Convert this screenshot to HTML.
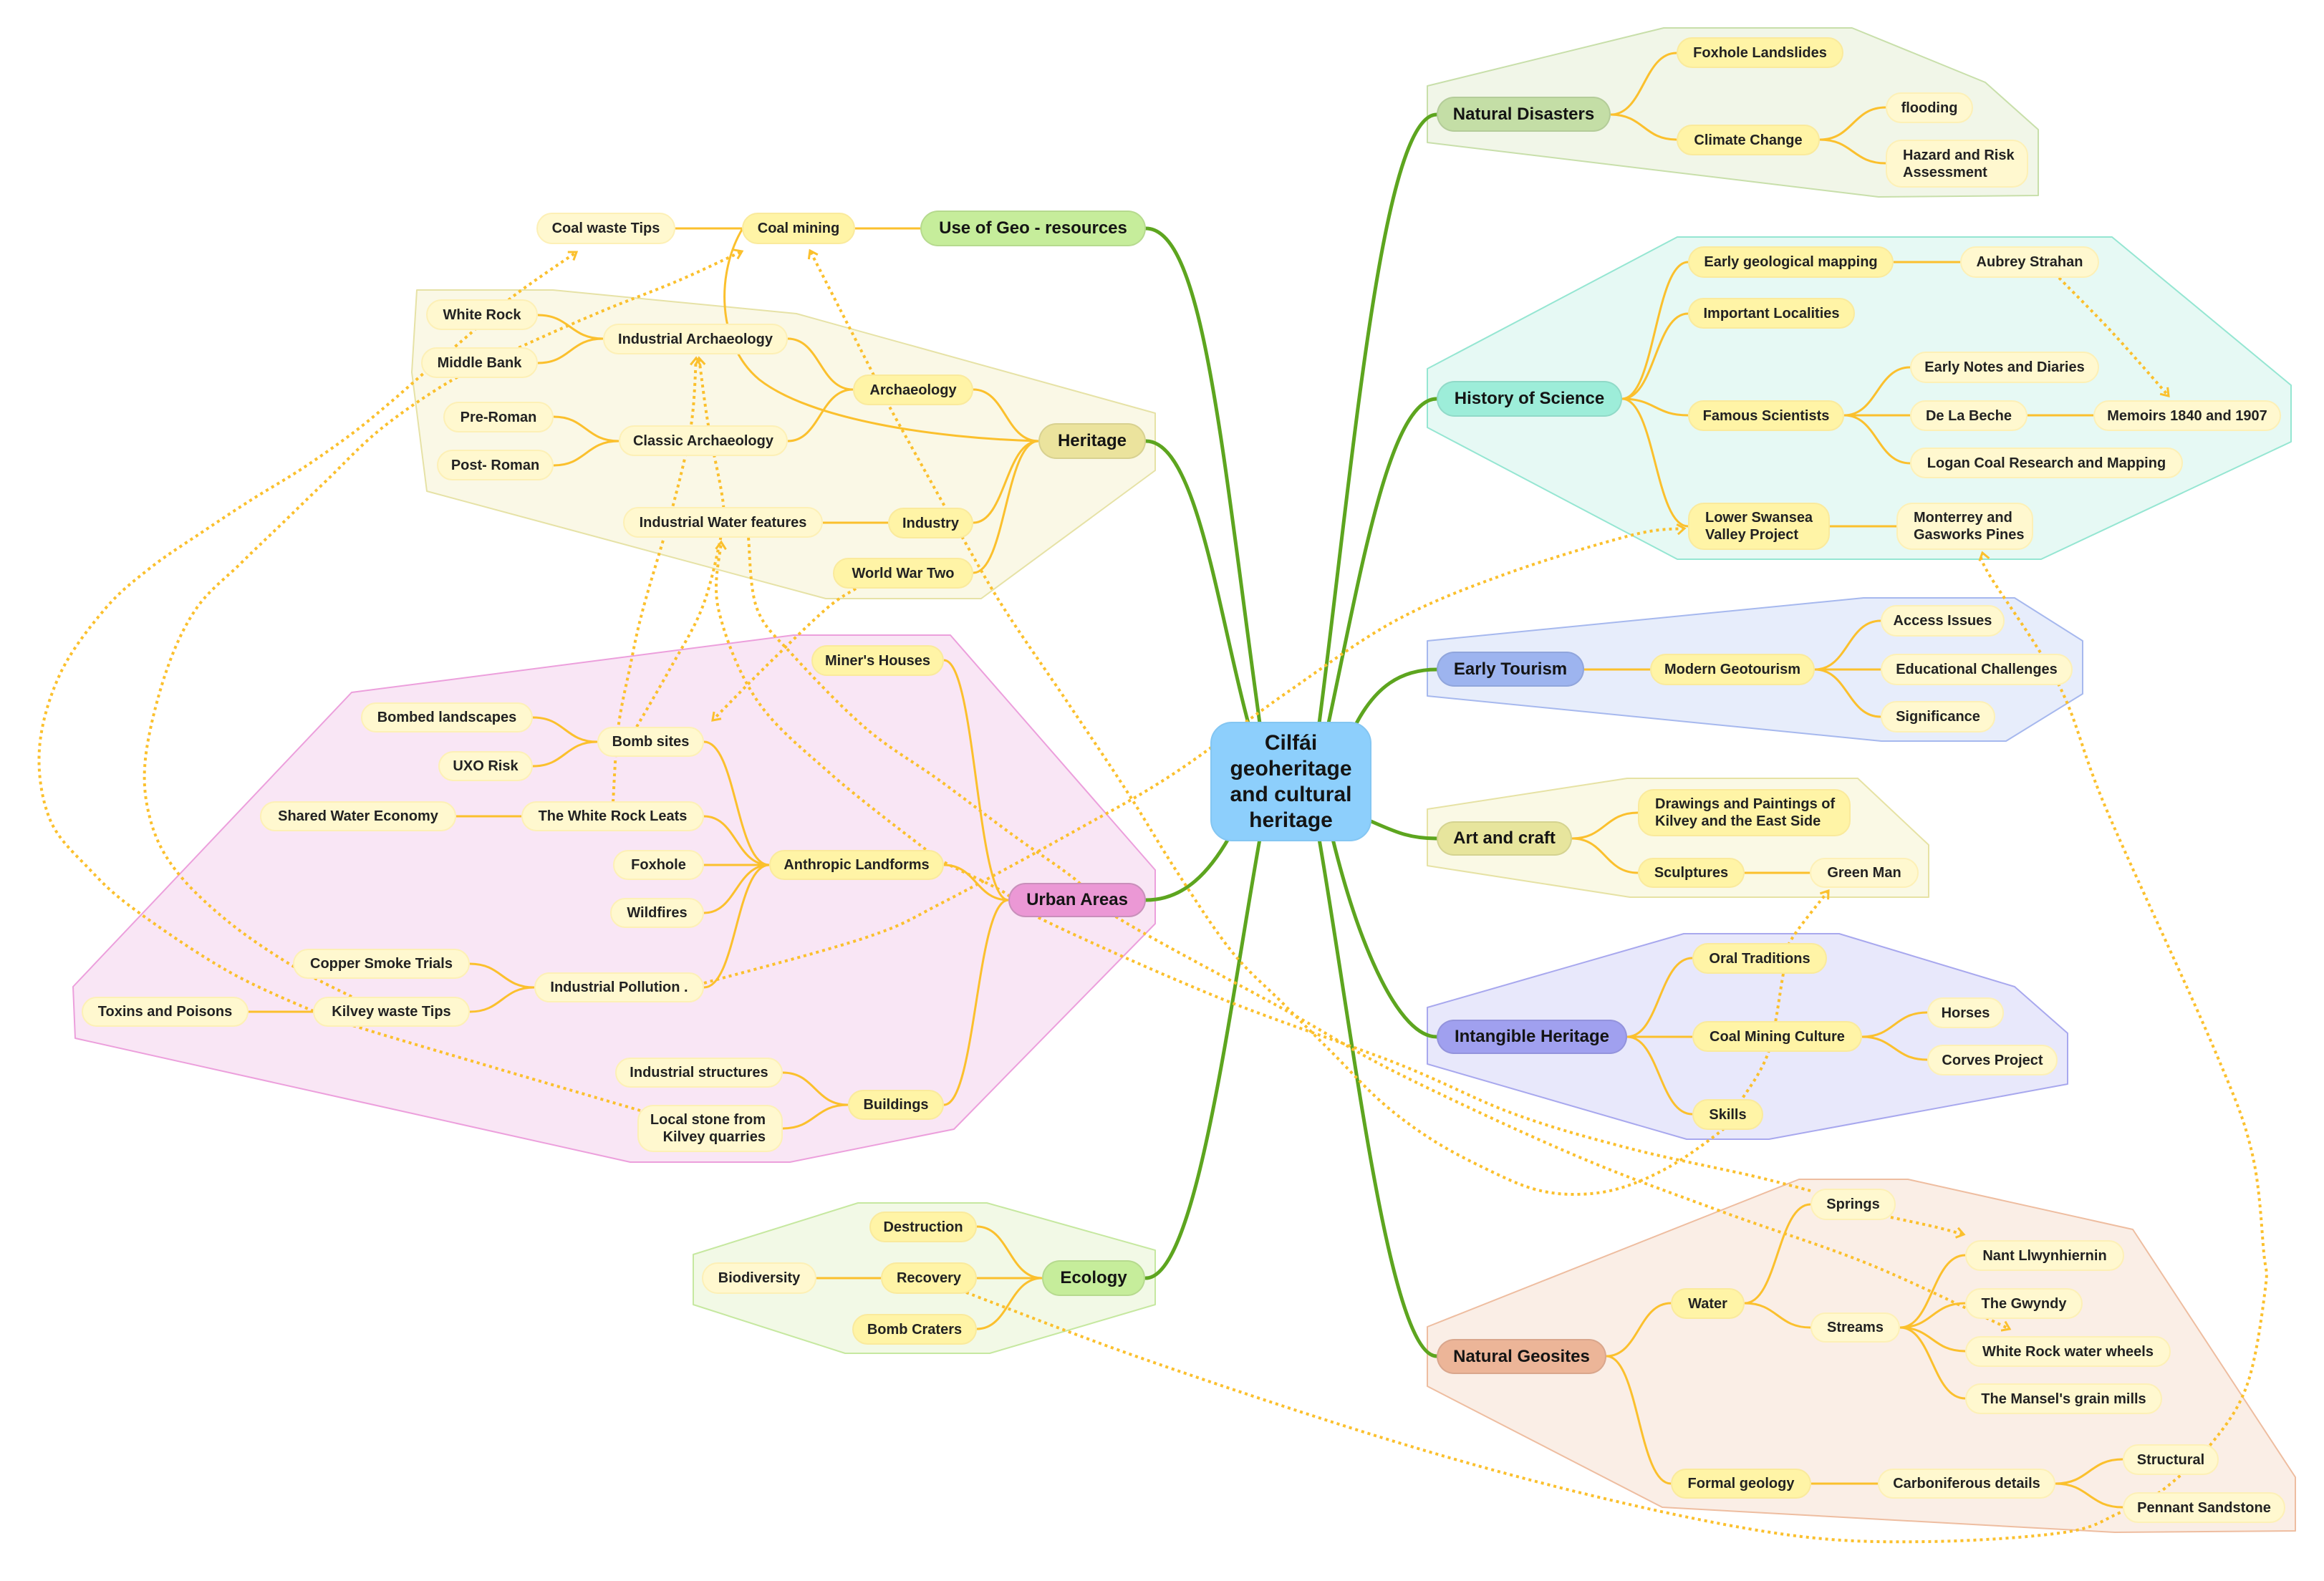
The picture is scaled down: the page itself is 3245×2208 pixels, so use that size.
<!DOCTYPE html>
<html><head><meta charset="utf-8">
<style>
html,body{margin:0;padding:0;background:#fff;}
#wrap{position:relative;width:3245px;height:2208px;overflow:hidden;background:#fff;font-family:"Liberation Sans",Arial,sans-serif;}
svg{position:absolute;left:0;top:0;}
.n,.n2,.m{position:absolute;box-sizing:border-box;display:flex;align-items:center;justify-content:center;text-align:center;font-weight:bold;white-space:nowrap;}
.n{background:#fff8cf;border:2px solid #fdf0b6;border-radius:22px;font-size:20px;color:#222;line-height:24px;}
.n2{background:#fff4a6;border:2px solid #faea9c;border-radius:22px;font-size:20px;color:#222;line-height:24px;}
.m{border-radius:25px;font-size:24px;color:#141414;border:2px solid rgba(0,0,0,0.08);}
.c{position:absolute;box-sizing:border-box;left:1690px;top:1008px;width:225px;height:167px;background:#8dcffc;border:2px solid #84c6f2;border-radius:30px;display:flex;align-items:center;justify-content:center;text-align:center;font-weight:bold;font-size:30px;line-height:36px;color:#141414;}
.l{justify-content:flex-start;text-align:left;padding-left:22px;}
.r{justify-content:flex-end;text-align:right;padding-right:22px;}
</style></head><body>
<div id="wrap">
<svg width="3245" height="2208" viewBox="0 0 3245 2208" xmlns="http://www.w3.org/2000/svg">
<defs>
<marker id="ah" markerUnits="userSpaceOnUse" markerWidth="24" markerHeight="24" viewBox="-12 -12 24 24" refX="0" refY="0" orient="auto">
<path d="M-10,-7 L0,0 L-10,7" fill="none" stroke="#fbc02d" stroke-width="3"/>
</marker>
</defs>
<!-- group polygons -->
<g stroke-width="2" stroke-linejoin="round">
<path d="M582,405 L772,405 L1112,438 L1613,577 L1613,657 L1370,836 L1153,836 L596,686 L575,520 Z" fill="#faf8e6" stroke="#e6e2a6"/>
<path d="M491,967 L1108,887 L1327,887 L1613,1215 L1613,1290 L1332,1577 L1103,1623 L880,1623 L105,1450 L102,1378 Z" fill="#f9e6f5" stroke="#ec9fdc"/>
<path d="M968,1752 L1198,1680 L1378,1680 L1613,1746 L1613,1822 L1382,1890 L1180,1890 L968,1822 Z" fill="#f2f9e6" stroke="#c6e8a0"/>
<path d="M1993,120 L2323,39 L2586,39 L2772,115 L2846,181 L2846,273 L2623,275 L1993,199 Z" fill="#f1f6e8" stroke="#c8dfaa"/>
<path d="M1993,515 L2342,331 L2949,331 L3199,538 L3199,617 L2850,781 L2342,781 L1993,597 Z" fill="#e6f9f4" stroke="#95e6d2"/>
<path d="M1993,895 L2602,835 L2813,835 L2908,895 L2908,969 L2801,1035 L2627,1035 L1993,972 Z" fill="#e7edfb" stroke="#a6b8ee"/>
<path d="M1993,1130 L2272,1087 L2594,1087 L2693,1180 L2693,1253 L2276,1253 L1993,1209 Z" fill="#faf9e5" stroke="#e6e2a4"/>
<path d="M1993,1407 L2351,1304 L2568,1304 L2813,1378 L2887,1443 L2887,1514 L2470,1591 L2355,1591 L1993,1486 Z" fill="#e8e8fb" stroke="#a8a8ee"/>
<path d="M1993,1853 L2512,1647 L2664,1647 L2978,1717 L3205,2063 L3205,2138 L2953,2140 L2321,2105 L1993,1936 Z" fill="#faeee6" stroke="#eebda0"/>
</g>
<!-- green main connectors -->
<g fill="none" stroke="#5da51f" stroke-width="5" stroke-linecap="round">
<path d="M1600,319 C1680,319 1705,620 1759,1010"/>
<path d="M1600,616 C1670,616 1700,850 1743,1010"/>
<path d="M1600,1257 C1655,1257 1690,1215 1716,1170"/>
<path d="M1600,1785 C1670,1785 1715,1420 1759,1172"/>
<path d="M2006,160 C1930,160 1890,640 1842,1010"/>
<path d="M2006,557 C1940,557 1900,800 1855,1010"/>
<path d="M2006,935 C1955,935 1920,960 1893,1012"/>
<path d="M2006,1171 C1965,1171 1945,1160 1912,1146"/>
<path d="M2006,1448 C1955,1448 1900,1330 1861,1172"/>
<path d="M2006,1894 C1940,1894 1890,1450 1842,1172"/>
</g>
<!-- orange tree connectors -->
<g fill="none" stroke="#fbc02d" stroke-width="3">
<path d="M1285,319 L1194,319"/>
<path d="M1036,319 L943,319"/>
<path d="M1450,616 C1404,616 1404,544 1359,544"/>
<path d="M1450,616 C1404,616 1404,730 1359,730"/>
<path d="M1450,616 C1404,616 1404,800 1359,800"/>
<path d="M1450,616 C1300,612 1130,585 1060,530 C1000,480 1000,380 1037,319"/>
<path d="M1191,544 C1145,544 1145,473 1100,473"/>
<path d="M1191,544 C1145,544 1145,616 1100,616"/>
<path d="M842,473 C796,473 796,440 751,440"/>
<path d="M842,473 C796,473 796,507 751,507"/>
<path d="M864,616 C818,616 818,582 773,582"/>
<path d="M864,616 C818,616 818,650 773,650"/>
<path d="M1240,730 L1149,730"/>
<path d="M1408,1257 C1363,1257 1363,922 1318,922"/>
<path d="M1408,1257 C1363,1257 1363,1208 1318,1208"/>
<path d="M1408,1257 C1363,1257 1363,1543 1318,1543"/>
<path d="M1074,1208 C1028,1208 1028,1036 983,1036"/>
<path d="M1074,1208 C1028,1208 1028,1140 983,1140"/>
<path d="M1074,1208 L983,1208"/>
<path d="M1074,1208 C1028,1208 1028,1275 983,1275"/>
<path d="M1074,1208 C1028,1208 1028,1379 983,1379"/>
<path d="M834,1036 C789,1036 789,1002 744,1002"/>
<path d="M834,1036 C789,1036 789,1070 744,1070"/>
<path d="M728,1140 L637,1140"/>
<path d="M746,1379 C701,1379 701,1346 656,1346"/>
<path d="M746,1379 C701,1379 701,1413 656,1413"/>
<path d="M437,1413 L347,1413"/>
<path d="M1184,1543 C1138,1543 1138,1498 1093,1498"/>
<path d="M1184,1543 C1138,1543 1138,1576 1093,1576"/>
<path d="M1455,1785 C1409,1785 1409,1713 1364,1713"/>
<path d="M1455,1785 L1364,1785"/>
<path d="M1455,1785 C1409,1785 1409,1856 1364,1856"/>
<path d="M1230,1785 L1140,1785"/>
<path d="M2249,160 C2295,160 2295,74 2341,74"/>
<path d="M2249,160 C2295,160 2295,195 2341,195"/>
<path d="M2541,195 C2587,195 2587,150 2633,150"/>
<path d="M2541,195 C2587,195 2587,228 2633,228"/>
<path d="M2265,557 C2311,557 2311,366 2357,366"/>
<path d="M2265,557 C2311,557 2311,438 2357,438"/>
<path d="M2265,557 C2311,557 2311,580 2357,580"/>
<path d="M2265,557 C2311,557 2311,735 2357,735"/>
<path d="M2644,366 L2737,366"/>
<path d="M2575,580 C2621,580 2621,513 2667,513"/>
<path d="M2575,580 L2667,580"/>
<path d="M2575,580 C2621,580 2621,647 2667,647"/>
<path d="M2831,580 L2923,580"/>
<path d="M2555,735 L2648,735"/>
<path d="M2212,935 L2304,935"/>
<path d="M2534,935 C2580,935 2580,867 2626,867"/>
<path d="M2534,935 L2626,935"/>
<path d="M2534,935 C2580,935 2580,1001 2626,1001"/>
<path d="M2195,1171 C2241,1171 2241,1135 2287,1135"/>
<path d="M2195,1171 C2241,1171 2241,1219 2287,1219"/>
<path d="M2436,1219 L2527,1219"/>
<path d="M2272,1448 C2317,1448 2317,1338 2363,1338"/>
<path d="M2272,1448 L2363,1448"/>
<path d="M2272,1448 C2317,1448 2317,1556 2363,1556"/>
<path d="M2600,1448 C2645,1448 2645,1414 2691,1414"/>
<path d="M2600,1448 C2645,1448 2645,1480 2691,1480"/>
<path d="M2243,1894 C2288,1894 2288,1820 2333,1820"/>
<path d="M2243,1894 C2288,1894 2288,2072 2333,2072"/>
<path d="M2436,1820 C2482,1820 2482,1682 2528,1682"/>
<path d="M2436,1820 C2482,1820 2482,1854 2528,1854"/>
<path d="M2653,1854 C2698,1854 2698,1753 2744,1753"/>
<path d="M2653,1854 C2698,1854 2698,1820 2744,1820"/>
<path d="M2653,1854 C2698,1854 2698,1887 2744,1887"/>
<path d="M2653,1854 C2698,1854 2698,1953 2744,1953"/>
<path d="M2529,2072 L2622,2072"/>
<path d="M2870,2072 C2917,2072 2917,2038 2964,2038"/>
<path d="M2870,2072 C2917,2072 2917,2105 2964,2105"/>
</g>
<!-- dotted relationship lines -->
<g id="rels" fill="none" stroke="#fbc02d" stroke-width="4" stroke-dasharray="4 5" stroke-linejoin="round">
<polyline class="rel" marker-end="url(#ah)" points="894,1551 700,1494 505,1436 435,1411 316,1355 189,1271 126,1215 70,1145 55,1046 84,941 147,850 210,793 281,744 351,698 421,655 491,606 545,562 600,514 652,470 715,415 805,352"/>
<polyline class="rel" marker-end="url(#ah)" points="491,1392 407,1348 316,1285 245,1215 210,1145 203,1060 231,941 274,850 337,786 393,732 456,671 533,598 631,531 730,483 842,434 947,392 1036,351"/>
<polyline class="rel" marker-end="url(#ah)" points="2440,1545 2400,1582 2330,1630 2260,1660 2198,1668 2140,1660 2074,1632 2000,1592 1930,1540 1860,1470 1790,1400 1720,1329 1645,1220 1574,1106 1490,980 1402,850 1344,751 1290,655 1242,568 1217,518 1174,434 1131,350"/>
<polyline class="rel" marker-end="url(#ah)" points="2528,1663 2446,1642 2280,1605 2115,1556 1950,1485 1701,1393 1453,1283 1400,1245 1320,1205 1287,1182 1159,1080 1057,978 1003,850 1007,757"/>
<polyline class="rel" marker-end="url(#ah)" points="1045,751 1057,850 1108,916 1210,1018 1312,1090 1414,1166 1500,1227 1561,1282 1797,1412 1950,1498 2198,1613 2404,1692 2611,1766 2806,1856"/>
<polyline class="rel" marker-end="url(#ah)" points="1195,822 1154,850 1070,930 995,1006"/>
<polyline class="rel" marker-end="url(#ah)" points="983,1373 1210,1309 1319,1259 1500,1161 1638,1081 1800,965 1950,866 2107,800 2280,747 2352,738"/>
<polyline class="rel" marker-end="url(#ah)" points="1349,1805 1600,1899 1950,2014 2245,2094 2500,2144 2691,2153 2883,2140 2959,2113 3017,2083 3087,2017 3138,1933 3163,1800 3161,1750 3144,1608 3090,1461 2941,1130 2875,957 2776,800 2768,772"/>
<polyline class="rel" marker-end="url(#ah)" points="2875,388 2950,465 3028,553"/>
<polyline class="rel" marker-end="url(#ah)" points="2640,1700 2700,1713 2742,1724"/>
<polyline class="rel" marker-end="url(#ah)" points="2429,1540 2469,1470 2490,1360 2499,1316 2553,1244"/>
<polyline class="rel" marker-end="url(#ah)" points="856,1120 863,1018 880,930 898,850 940,705 965,594 972,500"/>
<polyline class="rel" marker-end="url(#ah)" points="889,1015 935,935 980,850 1005,757 1010,705 989,594 976,500"/>
</g>
</svg>

<!-- Left top: Use of Geo / Heritage -->
<div class="m" style="left:1285px;top:294px;width:315px;height:50px;background:#c6ed9b;">Use of Geo - resources</div>
<div class="n2" style="left:1036px;top:297px;width:158px;height:44px;">Coal mining</div>
<div class="n" style="left:749px;top:297px;width:194px;height:44px;">Coal waste Tips</div>
<div class="m" style="left:1450px;top:591px;width:150px;height:50px;background:#ebe39d;">Heritage</div>
<div class="n2" style="left:1191px;top:523px;width:168px;height:43px;">Archaeology</div>
<div class="n2" style="left:1240px;top:709px;width:119px;height:43px;">Industry</div>
<div class="n2" style="left:1163px;top:779px;width:196px;height:43px;">World War Two</div>
<div class="n" style="left:870px;top:708px;width:279px;height:43px;">Industrial Water features</div>
<div class="n" style="left:842px;top:452px;width:258px;height:43px;">Industrial Archaeology</div>
<div class="n" style="left:864px;top:594px;width:236px;height:43px;">Classic Archaeology</div>
<div class="n" style="left:595px;top:418px;width:156px;height:43px;">White Rock</div>
<div class="n" style="left:588px;top:485px;width:163px;height:43px;">Middle Bank</div>
<div class="n" style="left:619px;top:561px;width:154px;height:43px;">Pre-Roman</div>
<div class="n" style="left:610px;top:628px;width:163px;height:43px;">Post- Roman</div>

<!-- Urban -->
<div class="m" style="left:1408px;top:1233px;width:192px;height:48px;background:#eb98d5;border-color:#c98fbb;">Urban Areas</div>
<div class="n2" style="left:1133px;top:901px;width:185px;height:43px;">Miner's Houses</div>
<div class="n2" style="left:1074px;top:1187px;width:244px;height:42px;">Anthropic Landforms</div>
<div class="n2" style="left:1184px;top:1522px;width:134px;height:42px;">Buildings</div>
<div class="n" style="left:834px;top:1015px;width:149px;height:42px;">Bomb sites</div>
<div class="n" style="left:728px;top:1119px;width:255px;height:42px;">The White Rock Leats</div>
<div class="n" style="left:856px;top:1187px;width:127px;height:42px;">Foxhole</div>
<div class="n" style="left:852px;top:1254px;width:131px;height:42px;">Wildfires</div>
<div class="n" style="left:746px;top:1358px;width:237px;height:42px;">Industrial Pollution .</div>
<div class="n" style="left:504px;top:981px;width:240px;height:42px;">Bombed landscapes</div>
<div class="n" style="left:612px;top:1049px;width:132px;height:42px;">UXO Risk</div>
<div class="n" style="left:363px;top:1119px;width:274px;height:42px;">Shared Water Economy</div>
<div class="n" style="left:409px;top:1325px;width:247px;height:42px;">Copper Smoke Trials</div>
<div class="n" style="left:437px;top:1392px;width:219px;height:42px;">Kilvey waste Tips</div>
<div class="n" style="left:114px;top:1392px;width:233px;height:42px;">Toxins and Poisons</div>
<div class="n" style="left:859px;top:1477px;width:234px;height:42px;">Industrial structures</div>
<div class="n r" style="left:890px;top:1543px;width:203px;height:66px;white-space:normal;">Local stone from<br>Kilvey quarries</div>

<!-- Ecology -->
<div class="m" style="left:1455px;top:1760px;width:144px;height:50px;background:#c6ed9b;">Ecology</div>
<div class="n2" style="left:1214px;top:1692px;width:150px;height:43px;">Destruction</div>
<div class="n2" style="left:1230px;top:1763px;width:134px;height:44px;">Recovery</div>
<div class="n2" style="left:1190px;top:1835px;width:174px;height:43px;">Bomb Craters</div>
<div class="n" style="left:980px;top:1763px;width:160px;height:44px;">Biodiversity</div>

<!-- Center -->
<div class="c">Cilfái<br>geoheritage<br>and cultural<br>heritage</div>

<!-- Natural Disasters -->
<div class="m" style="left:2006px;top:135px;width:243px;height:49px;background:#c4dea6;">Natural Disasters</div>
<div class="n2" style="left:2341px;top:52px;width:233px;height:43px;">Foxhole Landslides</div>
<div class="n2" style="left:2341px;top:174px;width:200px;height:43px;">Climate Change</div>
<div class="n" style="left:2633px;top:129px;width:122px;height:43px;">flooding</div>
<div class="n l" style="left:2633px;top:195px;width:199px;height:67px;white-space:normal;">Hazard and Risk<br>Assessment</div>

<!-- History of Science -->
<div class="m" style="left:2006px;top:532px;width:259px;height:50px;background:#9dedd9;">History of Science</div>
<div class="n2" style="left:2357px;top:344px;width:287px;height:44px;">Early geological mapping</div>
<div class="n" style="left:2737px;top:344px;width:194px;height:44px;">Aubrey Strahan</div>
<div class="n2" style="left:2357px;top:416px;width:233px;height:43px;">Important Localities</div>
<div class="n" style="left:2667px;top:491px;width:264px;height:44px;">Early Notes and Diaries</div>
<div class="n2" style="left:2357px;top:559px;width:218px;height:43px;">Famous Scientists</div>
<div class="n" style="left:2667px;top:559px;width:164px;height:43px;">De La Beche</div>
<div class="n" style="left:2923px;top:559px;width:262px;height:43px;">Memoirs 1840 and 1907</div>
<div class="n" style="left:2667px;top:625px;width:381px;height:43px;">Logan Coal Research and Mapping</div>
<div class="n2 l" style="left:2357px;top:702px;width:198px;height:66px;white-space:normal;">Lower Swansea<br>Valley Project</div>
<div class="n l" style="left:2648px;top:702px;width:191px;height:66px;white-space:normal;">Monterrey and<br>Gasworks Pines</div>

<!-- Early Tourism -->
<div class="m" style="left:2006px;top:910px;width:206px;height:49px;background:#9db4ef;">Early Tourism</div>
<div class="n2" style="left:2304px;top:913px;width:230px;height:44px;">Modern Geotourism</div>
<div class="n" style="left:2626px;top:845px;width:173px;height:44px;">Access Issues</div>
<div class="n" style="left:2626px;top:913px;width:268px;height:44px;">Educational Challenges</div>
<div class="n" style="left:2626px;top:979px;width:160px;height:44px;">Significance</div>

<!-- Art and craft -->
<div class="m" style="left:2006px;top:1147px;width:189px;height:48px;background:#e7e59d;">Art and craft</div>
<div class="n2 l" style="left:2287px;top:1102px;width:297px;height:66px;white-space:normal;">Drawings and Paintings of<br>Kilvey and the East Side</div>
<div class="n2" style="left:2287px;top:1198px;width:149px;height:42px;">Sculptures</div>
<div class="n" style="left:2527px;top:1198px;width:152px;height:42px;">Green Man</div>

<!-- Intangible Heritage -->
<div class="m" style="left:2006px;top:1424px;width:266px;height:48px;background:#a0a0ef;">Intangible Heritage</div>
<div class="n2" style="left:2363px;top:1317px;width:188px;height:43px;">Oral Traditions</div>
<div class="n2" style="left:2363px;top:1426px;width:237px;height:43px;">Coal Mining Culture</div>
<div class="n2" style="left:2363px;top:1535px;width:99px;height:43px;">Skills</div>
<div class="n" style="left:2691px;top:1393px;width:107px;height:43px;">Horses</div>
<div class="n" style="left:2691px;top:1459px;width:182px;height:43px;">Corves Project</div>

<!-- Natural Geosites -->
<div class="m" style="left:2006px;top:1870px;width:237px;height:49px;background:#ecb598;">Natural Geosites</div>
<div class="n2" style="left:2333px;top:1799px;width:103px;height:43px;">Water</div>
<div class="n2" style="left:2333px;top:2051px;width:196px;height:42px;">Formal geology</div>
<div class="n" style="left:2528px;top:1660px;width:119px;height:44px;">Springs</div>
<div class="n" style="left:2528px;top:1833px;width:125px;height:42px;">Streams</div>
<div class="n" style="left:2744px;top:1732px;width:222px;height:43px;">Nant Llwynhiernin</div>
<div class="n" style="left:2744px;top:1799px;width:164px;height:43px;">The Gwyndy</div>
<div class="n" style="left:2744px;top:1866px;width:287px;height:43px;">White Rock water wheels</div>
<div class="n" style="left:2744px;top:1932px;width:275px;height:43px;">The Mansel's grain mills</div>
<div class="n" style="left:2622px;top:2051px;width:248px;height:42px;">Carboniferous details</div>
<div class="n" style="left:2964px;top:2017px;width:134px;height:43px;">Structural</div>
<div class="n" style="left:2964px;top:2084px;width:227px;height:43px;">Pennant Sandstone</div>
</div>
<script>
(function(){
  var ns='http://www.w3.org/2000/svg';
  var pls=document.querySelectorAll('polyline.rel');
  for(var k=0;k<pls.length;k++){
    var pl=pls[k];
    var nums=pl.getAttribute('points').trim().split(/[\s,]+/).map(Number);
    var p=[];for(var i=0;i<nums.length;i+=2)p.push([nums[i],nums[i+1]]);
    var d='M'+p[0][0]+','+p[0][1];
    for(var j=0;j<p.length-1;j++){
      var p0=p[j-1]||p[j],p1=p[j],p2=p[j+1],p3=p[j+2]||p2;
      var c1x=p1[0]+(p2[0]-p0[0])/6,c1y=p1[1]+(p2[1]-p0[1])/6;
      var c2x=p2[0]-(p3[0]-p1[0])/6,c2y=p2[1]-(p3[1]-p1[1])/6;
      d+=' C'+c1x.toFixed(1)+','+c1y.toFixed(1)+' '+c2x.toFixed(1)+','+c2y.toFixed(1)+' '+p2[0]+','+p2[1];
    }
    var path=document.createElementNS(ns,'path');
    path.setAttribute('d',d);
    var me=pl.getAttribute('marker-end');
    if(me)path.setAttribute('marker-end',me);
    pl.parentNode.replaceChild(path,pl);
  }
})();
</script>
</body></html>
